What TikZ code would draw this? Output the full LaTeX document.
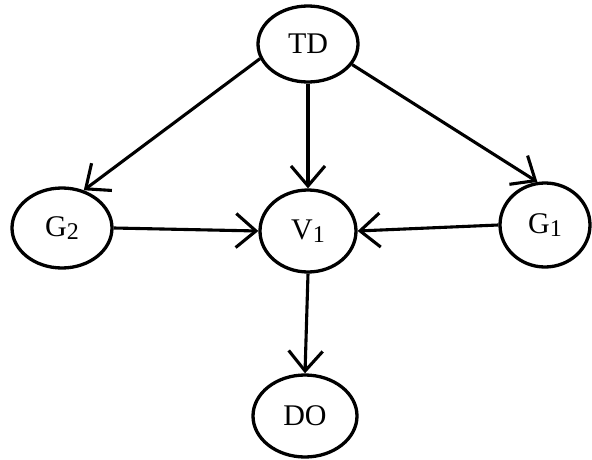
\documentclass[tikz,border=0pt]{standalone}
\usepackage{fontspec}
\setmainfont{Liberation Serif}
\usetikzlibrary{shapes.geometric, arrows.meta}

% 작은 첨자 숫자
\newcommand{\idx}[1]{\raisebox{-0.2ex}{\fontsize{24}{24}\selectfont #1}}

\begin{document}
\begin{tikzpicture}[x=1pt, y=1pt, font=\fontsize{30}{34}\selectfont]
        % 공통 스타일 설정
        \tikzset{
            var/.style={ellipse, draw, line width=3.3pt, inner sep=0pt},
            link/.style={line width=3.1pt, -{Straight Barb[length=20pt, width=34pt, line width=3.1pt]}}
        }

        \useasboundingbox (0,0) rectangle (592,-460);

        % --- 노드 ---
        \node[var, minimum width=100, minimum height=76] (td) at (308,-44) {TD};
        \node[var, minimum width=100, minimum height=80] (g2) at (62,-228) {G\idx{2}};
        \node[var, minimum width=96, minimum height=82] (v1) at (308,-231) {V\idx{1}};
        \node[var, minimum width=90, minimum height=84] (g1) at (545,-225) {G\idx{1}};
        \node[var, minimum width=104, minimum height=82] (do) at (305,-416) {DO};

        % --- 연결선 ---
        \draw[link] (td.197) -- (g2.60);
        \draw[link] (td.-25) -- (g1.100);
        \draw[link] (td.south) -- (v1.north);
        \draw[link] (g2.east) -- (v1.west);
        \draw[link] (g1.west) -- (v1.east);
        \draw[link] (v1.south) -- (do.north);
    \end{tikzpicture}
\end{document}
